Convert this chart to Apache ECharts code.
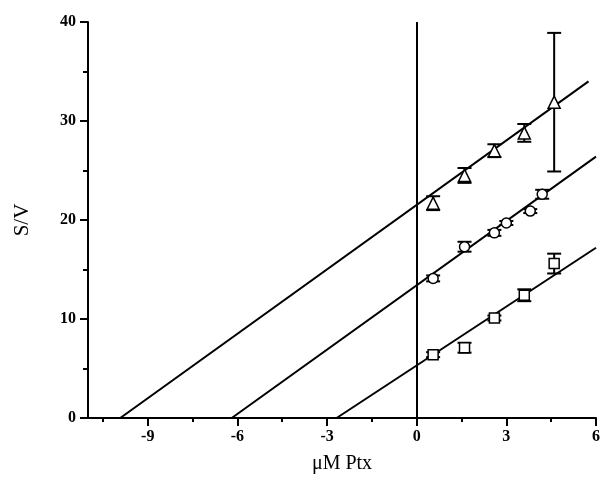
<!DOCTYPE html>
<html>
<head>
<meta charset="utf-8">
<script src="https://cdn.jsdelivr.net/npm/echarts@6/dist/echarts.min.js"></script>
<style>
  html, body { margin: 0; padding: 0; background: #fff; }
  #chart { width: 603px; height: 484px; }
</style>
</head>
<body>
<div id="chart"></div>
<script>
// tick labels
var xTicks = [-9, -6, -3, 0, 3, 6];
var xMinorTicks = [-10.5, -7.5, -4.5, -1.5, 1.5, 4.5];

// triangles
var triX = [0.55, 1.6, 2.6, 3.6, 4.6];
var triY = [21.7, 24.5, 27.0, 28.8, 31.9];
var triErr = [0.7, 0.75, 0.65, 0.9, 7.0];
// circles
var cirX = [0.55, 1.6, 2.6, 3.0, 3.8, 4.2];
var cirY = [14.1, 17.3, 18.7, 19.7, 20.9, 22.6];
var cirErr = [0.3, 0.5, 0.3, 0.2, 0.2, 0.45];
// squares
var sqX = [0.55, 1.6, 2.6, 3.6, 4.6];
var sqY = [6.4, 7.1, 10.1, 12.4, 15.6];
var sqErr = [0.25, 0.5, 0.25, 0.6, 1.0];

// fitted lines (x-intercept to end)
var triFit = [[-9.92, 0], [5.75, 34.0]];
var cirFit = [[-6.19, 0], [6, 26.4]];
var sqFit = [[-2.68, 0], [6, 17.2]];

var serif = 'Liberation Serif';

function pts(xs, ys) {
    return xs.map(function (x, i) { return [x, ys[i]]; });
}
function errPts(xs, ys, es) {
    return xs.map(function (x, i) { return [x, ys[i] - es[i], ys[i] + es[i]]; });
}

// error bars with caps
function renderErr(params, api) {
    var x = api.value(0);
    var lo = api.coord([x, api.value(1)]);
    var hi = api.coord([x, api.value(2)]);
    var w = 7;
    var st = { stroke: '#000', lineWidth: 2 };
    return {
        type: 'group',
        children: [
            { type: 'line', shape: { x1: lo[0], y1: lo[1], x2: hi[0], y2: hi[1] }, style: st },
            { type: 'line', shape: { x1: lo[0] - w, y1: lo[1], x2: lo[0] + w, y2: lo[1] }, style: st },
            { type: 'line', shape: { x1: hi[0] - w, y1: hi[1], x2: hi[0] + w, y2: hi[1] }, style: st }
        ]
    };
}

function fitLine(data) {
    return {
        type: 'line', data: data, symbol: 'none', silent: true,
        lineStyle: { color: '#000', width: 2 }, z: 2
    };
}
function errSeries(xs, ys, es) {
    return { type: 'custom', renderItem: renderErr, data: errPts(xs, ys, es), z: 3, silent: true };
}
function markSeries(xs, ys, sym, size) {
    return {
        type: 'scatter', data: pts(xs, ys), symbol: sym, symbolSize: size,
        itemStyle: { color: '#fff', borderColor: '#000', borderWidth: 1.5, opacity: 1 },
        z: 4
    };
}

var chart = echarts.init(document.getElementById('chart'));
chart.setOption({
    animation: false,
    backgroundColor: '#fff',
    grid: { left: 88, right: 5, top: 22, bottom: 66 },
    xAxis: [{
        type: 'value', min: -11, max: 6,
        name: 'μM Ptx', nameLocation: 'middle', nameGap: 36,
        nameTextStyle: { fontFamily: serif, fontSize: 20, color: '#000' },
        axisLine: { show: true, onZero: false, lineStyle: { color: '#000', width: 2 } },
        axisTick: { show: true, inside: false, length: 8, customValues: xTicks, lineStyle: { color: '#000', width: 2 } },
        axisLabel: { customValues: xTicks, margin: 11, fontFamily: serif, fontWeight: 'bold', fontSize: 16, color: '#000' },
        splitLine: { show: false }
    }, {
        type: 'value', min: -11, max: 6, position: 'bottom',
        axisLine: { show: false, onZero: false },
        axisTick: { show: true, length: 4, customValues: xMinorTicks, lineStyle: { color: '#000', width: 2 } },
        axisLabel: { show: false },
        splitLine: { show: false }
    }],
    yAxis: {
        type: 'value', min: 0, max: 40, interval: 10,
        name: 'S/V', nameLocation: 'middle', nameGap: 55, nameRotate: 90,
        nameTextStyle: { fontFamily: serif, fontSize: 21, color: '#000' },
        axisLine: { show: true, onZero: false, lineStyle: { color: '#000', width: 2 } },
        axisTick: { show: true, length: 8, lineStyle: { color: '#000', width: 2 } },
        minorTick: { show: true, splitNumber: 2, length: 5, lineStyle: { color: '#000', width: 2 } },
        axisLabel: { margin: 12, fontFamily: serif, fontWeight: 'bold', fontSize: 16, color: '#000' },
        splitLine: { show: false }
    },
    series: [
        {
            type: 'line', data: [], silent: true,
            markLine: {
                symbol: 'none', silent: true, label: { show: false },
                lineStyle: { color: '#000', width: 2, type: 'solid' },
                data: [[{ coord: [0, 0] }, { coord: [0, 40] }]]
            }
        },
        fitLine(triFit),
        fitLine(cirFit),
        fitLine(sqFit),
        errSeries(triX, triY, triErr),
        errSeries(cirX, cirY, cirErr),
        errSeries(sqX, sqY, sqErr),
        markSeries(triX, triY, 'triangle', 12),
        markSeries(cirX, cirY, 'circle', 10),
        markSeries(sqX, sqY, 'rect', 10)
    ]
});
</script>
</body>
</html>
